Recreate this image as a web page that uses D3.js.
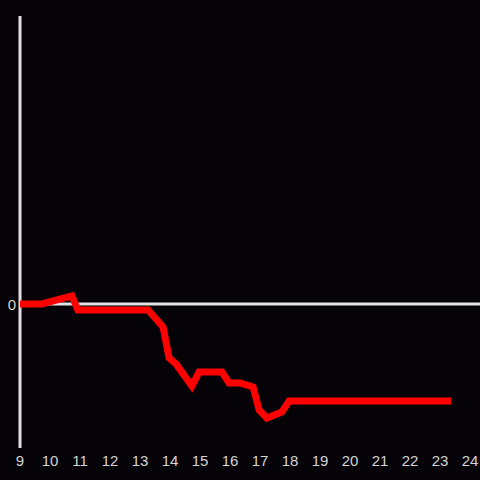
<!DOCTYPE html>
<html><head><meta charset="utf-8">
<script src="https://cdn.jsdelivr.net/npm/d3@7"></script>
<style>html,body{margin:0;padding:0;background:#050307;}</style>
</head><body>
<script>
const hours = [9, 9.73, 10.73, 10.93, 13.27, 13.77, 13.97, 14.2, 14.73, 14.97, 15.73, 15.97, 16.33, 16.77, 16.97, 17.23, 17.73, 17.97, 23.37];
const values = [0, 0, 2.8, -2.1, -2.1, -8.0, -18.7, -20.8, -28.5, -23.6, -23.6, -27.4, -27.4, -28.8, -36.8, -39.6, -37.5, -33.7, -33.7];
const xTicks = [9,10,11,12,13,14,15,16,17,18,19,20,21,22,23,24];
const yTicks = [0];

const W = 480, H = 480;
const svg = d3.select("body").append("svg").attr("width", W).attr("height", H)
  .style("background", "#050307");
svg.append("rect").attr("width", W).attr("height", H).attr("fill", "#050307");

const x = d3.scaleLinear().domain([9, 24]).range([20, 470]);
const y = d3.scaleLinear().domain([-50, 100]).range([448, 16]);

// vertical axis line
svg.append("line").attr("x1", 20).attr("x2", 20).attr("y1", y(100)).attr("y2", y(-50))
  .attr("stroke", "#e0e0e0").attr("stroke-width", 3);
// zero line
svg.append("line").attr("x1", 20).attr("x2", W).attr("y1", y(0)).attr("y2", y(0))
  .attr("stroke", "#e0e0e0").attr("stroke-width", 3);

const fontFam = "'Liberation Sans', Arial, sans-serif";
svg.selectAll("text.xt").data(xTicks).enter().append("text")
  .attr("class", "xt").attr("x", d => x(d)).attr("y", 466)
  .attr("text-anchor", "middle").attr("fill", "#d4d4d4")
  .style("font-family", fontFam).style("font-size", "15px").text(d => d);
svg.selectAll("text.yt").data(yTicks).enter().append("text")
  .attr("class", "yt").attr("x", 16).attr("y", y(0) + 6)
  .attr("text-anchor", "end").attr("fill", "#d4d4d4")
  .style("font-family", fontFam).style("font-size", "15px").text(d => d);

const data = hours.map((h, i) => [h, values[i]]);
svg.append("path").datum(data)
  .attr("d", d3.line().x(d => x(d[0])).y(d => y(d[1])))
  .attr("fill", "none").attr("stroke", "#ff0000").attr("stroke-width", 7);
</script>
</body></html>
